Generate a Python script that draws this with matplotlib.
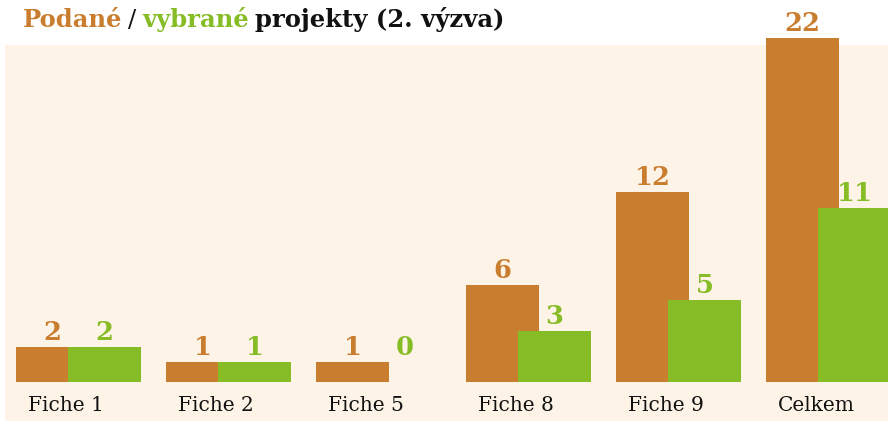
import numpy as np
import matplotlib.pyplot as plt
from matplotlib.patches import Rectangle

# data
categories = ["Fiche 1", "Fiche 2", "Fiche 5", "Fiche 8", "Fiche 9", "Celkem"]
podane = [2, 1, 1, 6, 12, 22]
vybrane = [2, 1, 0, 3, 5, 11]

orange = "#C97D2F"
green = "#86BC25"
cream = "#FDF3E6"
font = "DejaVu Serif"

W, H = 888, 423
fig = plt.figure(figsize=(W / 100, H / 100), dpi=100)

# cream panel behind the bars
fig.patches.append(Rectangle((5 / W, 2 / H), (W - 5) / W, (H - 45 - 2) / H,
                             transform=fig.transFigure, facecolor=cream,
                             edgecolor="none", zorder=0))

base = 382  # baseline, px from top
px_per_unit = 15.43
stub = 0.3  # bars start a bit below zero (as in the original)
ax = fig.add_axes([0, (H - base) / H, 1, base / H])
ax.set_zorder(2)
ax.set_facecolor("none")
ax.set_xlim(-16 / 150, (W - 16) / 150)
ax.set_ylim(-stub, base / px_per_unit - stub)
for s in ax.spines.values():
    s.set_visible(False)
ax.set_yticks([])

x = np.arange(len(categories))
w = 73 / 150
d = 52 / 150
h1 = [v + stub if v > 0 else 0 for v in podane]
h2 = [v + stub if v > 0 else 0 for v in vybrane]
ax.bar(x, h1, bottom=-stub, width=w, align="edge", color=orange, zorder=2)
ax.bar(x + d, h2, bottom=-stub, width=w, align="edge", color=green, zorder=3)

for xi, v in zip(x, podane):
    ax.annotate(str(v), (xi + w / 2, max(v, 1)), xytext=(0, 5), textcoords="offset points",
                ha="center", va="baseline", fontsize=18.5, fontweight="bold",
                color=orange, family=font, annotation_clip=False)
for xi, v in zip(x, vybrane):
    ax.annotate(str(v), (xi + d + w / 2, max(v, 1)), xytext=(0, 5), textcoords="offset points",
                ha="center", va="baseline", fontsize=18.5, fontweight="bold",
                color=green, family=font, annotation_clip=False)

ax.set_xticks(x + 50 / 150)
ax.set_xticklabels(categories, fontsize=14.5, family=font, color="#111111")
ax.tick_params(axis="x", length=0, pad=10)

# title made of coloured pieces
parts = [("Podané", orange, "bold"), ("/", "#111111", "normal"),
         ("vybrané", green, "bold"), ("projekty (2. výzva)", "#111111", "bold")]
fig.canvas.draw()
r = fig.canvas.get_renderer()
tx = 23
ty = H - 27
for s, c, fw in parts:
    t = fig.text(tx / W, ty / H, s, color=c, fontweight=fw, fontsize=17.5,
                 family=font, va="baseline", ha="left")
    bb = t.get_window_extent(r)
    tx = bb.x1 + 6

fig.savefig("out.png", dpi=100)
